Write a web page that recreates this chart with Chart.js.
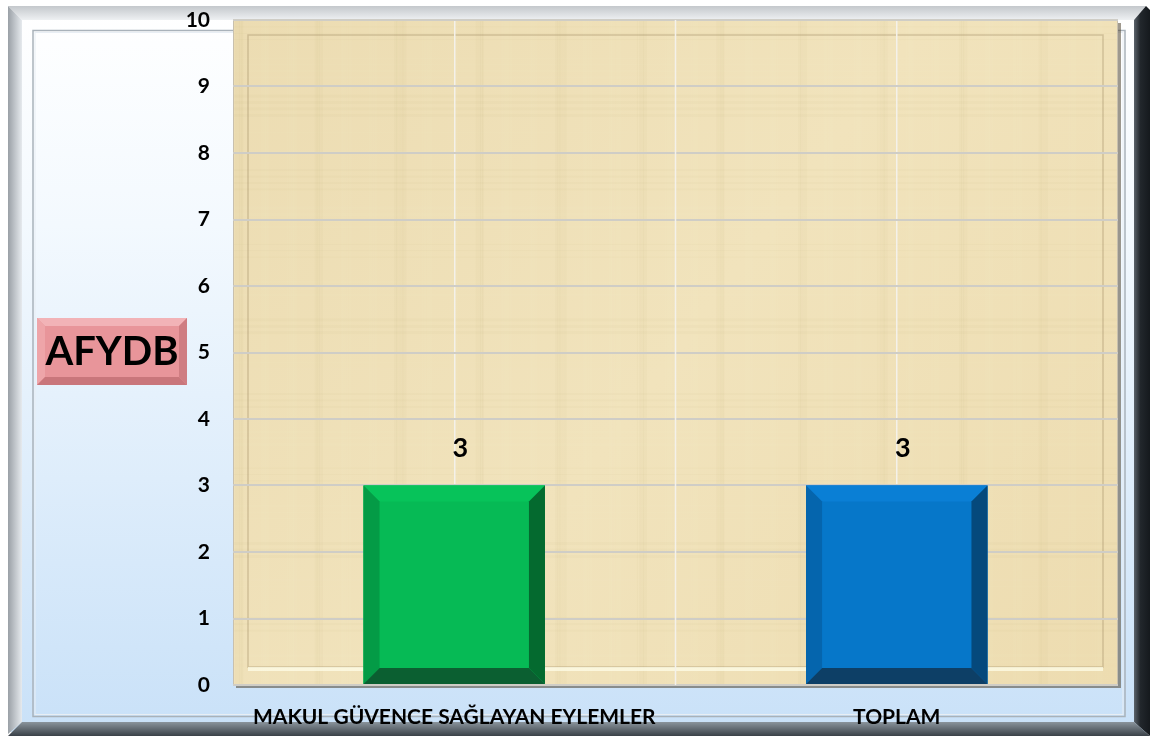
<!DOCTYPE html>
<html>
<head>
<meta charset="utf-8">
<script src="https://cdn.jsdelivr.net/npm/chart.js@4/dist/chart.umd.min.js"></script>
<style>
  html, body { margin: 0; padding: 0; background: #ffffff; }
  #wrap { width: 1152px; height: 740px; }
</style>
</head>
<body>
<div id="wrap"><canvas id="chart" width="1152" height="740"></canvas></div>
<script>
// data
const categories = ["MAKUL GÜVENCE SAĞLAYAN EYLEMLER", "TOPLAM"];
const values = [3, 3];
const axisTitle = "AFYDB";
const yTicks = [0, 1, 2, 3, 4, 5, 6, 7, 8, 9, 10];

const FONT = "Lato, 'Open Sans', sans-serif";

// face, left, right, bottom, top colours for the bevelled bars
const barStyles = [
  { face: "#06ba55", left: "#049b46", right: "#046a2f", bottom: "#0b5f31", top: "#07c35a" },
  { face: "#0677c9", left: "#0565ad", right: "#05497c", bottom: "#0d3f66", top: "#0a7fd5" }
];

// frame + paper background behind everything
const backdrop = {
  id: "backdrop",
  beforeDraw(chart) {
    const ctx = chart.ctx;
    const W = chart.width, H = chart.height;
    const a = chart.chartArea;
    ctx.save();
    ctx.fillStyle = "#ffffff";
    ctx.fillRect(0, 0, W, H);

    // outer panel gradient
    let g = ctx.createLinearGradient(0, 8, 0, 732);
    g.addColorStop(0, "#ffffff");
    g.addColorStop(0.3, "#f3f9fe");
    g.addColorStop(1, "#c9e1f8");
    ctx.fillStyle = g;
    ctx.fillRect(8, 8, 1140, 724);

    // bevel: top + left light grey
    g = ctx.createLinearGradient(0, 6, 0, 22);
    g.addColorStop(0, "#c4c8cc");
    g.addColorStop(1, "#f4f6f8");
    ctx.fillStyle = g;
    ctx.beginPath();
    ctx.moveTo(8, 6); ctx.lineTo(1146, 6); ctx.lineTo(1134, 20); ctx.lineTo(22, 20); ctx.closePath();
    ctx.fill();
    g = ctx.createLinearGradient(8, 0, 22, 0);
    g.addColorStop(0, "#9aa0a6");
    g.addColorStop(1, "#e6eaee");
    ctx.fillStyle = g;
    ctx.beginPath();
    ctx.moveTo(8, 6); ctx.lineTo(22, 20); ctx.lineTo(22, 722); ctx.lineTo(8, 734); ctx.closePath();
    ctx.fill();
    // right dark side
    g = ctx.createLinearGradient(1134, 0, 1150, 0);
    g.addColorStop(0, "#5b636b");
    g.addColorStop(0.4, "#22272c");
    g.addColorStop(1, "#15191d");
    ctx.fillStyle = g;
    ctx.beginPath();
    ctx.moveTo(1146, 6); ctx.lineTo(1150, 10); ctx.lineTo(1150, 736); ctx.lineTo(1134, 722); ctx.lineTo(1134, 20); ctx.closePath();
    ctx.fill();
    // bottom dark
    g = ctx.createLinearGradient(0, 722, 0, 736);
    g.addColorStop(0, "#8a949c");
    g.addColorStop(1, "#3a4148");
    ctx.fillStyle = g;
    ctx.beginPath();
    ctx.moveTo(22, 722); ctx.lineTo(1134, 722); ctx.lineTo(1150, 736); ctx.lineTo(8, 736); ctx.closePath();
    ctx.fill();

    // inner thin frame
    ctx.strokeStyle = "#a9b2ba";
    ctx.lineWidth = 1.5;
    ctx.strokeRect(33, 30.5, 1092, 686);
    ctx.strokeStyle = "#e8eef4";
    ctx.lineWidth = 1;
    ctx.strokeRect(35, 32.5, 1088, 682);

    // paper plot area
    const x0 = a.left, y0 = a.top, w = a.right - a.left, h = a.bottom - a.top;
    // shadow
    ctx.fillStyle = "rgba(80,70,50,0.55)";
    ctx.fillRect(x0 + 3, y0 + 3, w, h);
    g = ctx.createLinearGradient(x0, y0, x0 + w, y0 + h);
    g.addColorStop(0, "#ecdcb2");
    g.addColorStop(0.5, "#f1e3bc");
    g.addColorStop(1, "#eddcb0");
    ctx.fillStyle = g;
    ctx.fillRect(x0, y0, w, h);
    // faint fibre streaks
    ctx.globalAlpha = 0.035;
    for (let i = 0; i < 140; i++) {
      const xx = x0 + ((i * 53.7) % w);
      const ww = 1 + (i % 4);
      ctx.fillStyle = i % 3 === 0 ? "#b89a5c" : "#fff6dc";
      ctx.fillRect(xx, y0, ww, h);
    }
    for (let i = 0; i < 60; i++) {
      const yy = y0 + ((i * 37.3) % h);
      ctx.fillStyle = i % 2 === 0 ? "#b89a5c" : "#fff6dc";
      ctx.fillRect(x0, yy, w, 1 + (i % 3));
    }
    ctx.globalAlpha = 1;
    // inner bevel frame
    ctx.strokeStyle = "rgba(160,140,100,0.4)";
    ctx.lineWidth = 1.5;
    ctx.strokeRect(x0 + 15, y0 + 15, w - 30, h - 33);
    ctx.fillStyle = "rgba(255,255,235,0.7)";
    ctx.fillRect(x0 + 15, a.bottom - 18, w - 30, 4);
    ctx.strokeStyle = "#c8c0ae";
    ctx.lineWidth = 1;
    ctx.strokeRect(x0 + 0.5, y0 + 0.5, w - 1, h - 1);

    // axis title box
    const bx = 37, by = 318, bw = 150, bh = 67, bv = 8;
    ctx.fillStyle = "#e8959a";
    ctx.fillRect(bx, by, bw, bh);
    ctx.fillStyle = "#f2b3b7";
    ctx.beginPath(); ctx.moveTo(bx, by); ctx.lineTo(bx + bw, by); ctx.lineTo(bx + bw - bv, by + bv); ctx.lineTo(bx + bv, by + bv); ctx.closePath(); ctx.fill();
    ctx.fillStyle = "#eea5a9";
    ctx.beginPath(); ctx.moveTo(bx, by); ctx.lineTo(bx + bv, by + bv); ctx.lineTo(bx + bv, by + bh - bv); ctx.lineTo(bx, by + bh); ctx.closePath(); ctx.fill();
    ctx.fillStyle = "#cf7d82";
    ctx.beginPath(); ctx.moveTo(bx + bw, by); ctx.lineTo(bx + bw, by + bh); ctx.lineTo(bx + bw - bv, by + bh - bv); ctx.lineTo(bx + bw - bv, by + bv); ctx.closePath(); ctx.fill();
    ctx.fillStyle = "#c9767b";
    ctx.beginPath(); ctx.moveTo(bx, by + bh); ctx.lineTo(bx + bw, by + bh); ctx.lineTo(bx + bw - bv, by + bh - bv); ctx.lineTo(bx + bv, by + bh - bv); ctx.closePath(); ctx.fill();
    ctx.fillStyle = "#000";
    ctx.font = "bold 40px " + FONT;
    ctx.textAlign = "center";
    ctx.textBaseline = "middle";
    ctx.fillText(axisTitle, bx + bw / 2, by + bh / 2 + 1);
    ctx.restore();
  }
};

// extra vertical line at the boundary between categories
const midLines = {
  id: "midLines",
  beforeDatasetsDraw(chart) {
    const x = chart.scales.x, a = chart.chartArea, ctx = chart.ctx;
    ctx.save();
    ctx.strokeStyle = "#f4f1ea";
    ctx.lineWidth = 1.5;
    for (let i = 0; i < categories.length - 1; i++) {
      const px = (x.getPixelForValue(i) + x.getPixelForValue(i + 1)) / 2;
      ctx.beginPath(); ctx.moveTo(px, a.top); ctx.lineTo(px, a.bottom); ctx.stroke();
    }
    ctx.restore();
  }
};

// bevelled bars + value labels
const bevelBars = {
  id: "bevelBars",
  afterDatasetsDraw(chart) {
    const ctx = chart.ctx;
    const meta = chart.getDatasetMeta(0);
    ctx.save();
    meta.data.forEach((bar, i) => {
      const s = barStyles[i];
      const l = bar.x - bar.width / 2, r = bar.x + bar.width / 2;
      const t = bar.y, b = bar.base;
      const bv = 16;
      ctx.fillStyle = s.face;
      ctx.fillRect(l, t, r - l, b - t);
      const poly = (pts, c) => {
        ctx.fillStyle = c;
        ctx.beginPath();
        ctx.moveTo(pts[0][0], pts[0][1]);
        pts.slice(1).forEach(p => ctx.lineTo(p[0], p[1]));
        ctx.closePath(); ctx.fill();
      };
      poly([[l, t], [r, t], [r - bv, t + bv], [l + bv, t + bv]], s.top);
      poly([[l, t], [l + bv, t + bv], [l + bv, b - bv], [l, b]], s.left);
      poly([[r, t], [r, b], [r - bv, b - bv], [r - bv, t + bv]], s.right);
      poly([[l, b], [r, b], [r - bv, b - bv], [l + bv, b - bv]], s.bottom);

      ctx.fillStyle = "#000";
      ctx.font = "bold 27px " + FONT;
      ctx.textAlign = "center";
      ctx.textBaseline = "middle";
      ctx.fillText(String(values[i]), bar.x + 6, t - 37);
    });
    ctx.restore();
  }
};

new Chart(document.getElementById("chart"), {
  type: "bar",
  data: {
    labels: categories,
    datasets: [{
      data: values,
      backgroundColor: barStyles.map(s => s.face),
      borderWidth: 0,
      categoryPercentage: 1,
      barPercentage: 0.41
    }]
  },
  options: {
    responsive: false,
    animation: false,
    events: [],
    layout: { padding: { top: 20, right: 34, bottom: 0, left: 0 } },
    plugins: { legend: { display: false }, tooltip: { enabled: false } },
    scales: {
      x: {
        grid: { offset: false, color: "#f4f1ea", lineWidth: 1.5, drawTicks: false },
        border: { display: false },
        ticks: { color: "#000", padding: 20, font: { family: FONT, size: 21, weight: "bold" } },
        afterFit(scale) { scale.height = 55; scale.paddingLeft = 0; scale.paddingRight = 0; }
      },
      y: {
        min: 0,
        max: 10,
        afterBuildTicks(scale) { scale.ticks = yTicks.map(v => ({ value: v })); },
        grid: { color: "#cfcdc6", lineWidth: 2, drawTicks: false },
        border: { display: false },
        ticks: { color: "#000", padding: 23, font: { family: FONT, size: 21, weight: "bold" } },
        afterFit(scale) { scale.width = 233; scale.paddingTop = 0; scale.paddingBottom = 0; }
      }
    }
  },
  plugins: [backdrop, midLines, bevelBars]
});
</script>
</body>
</html>
